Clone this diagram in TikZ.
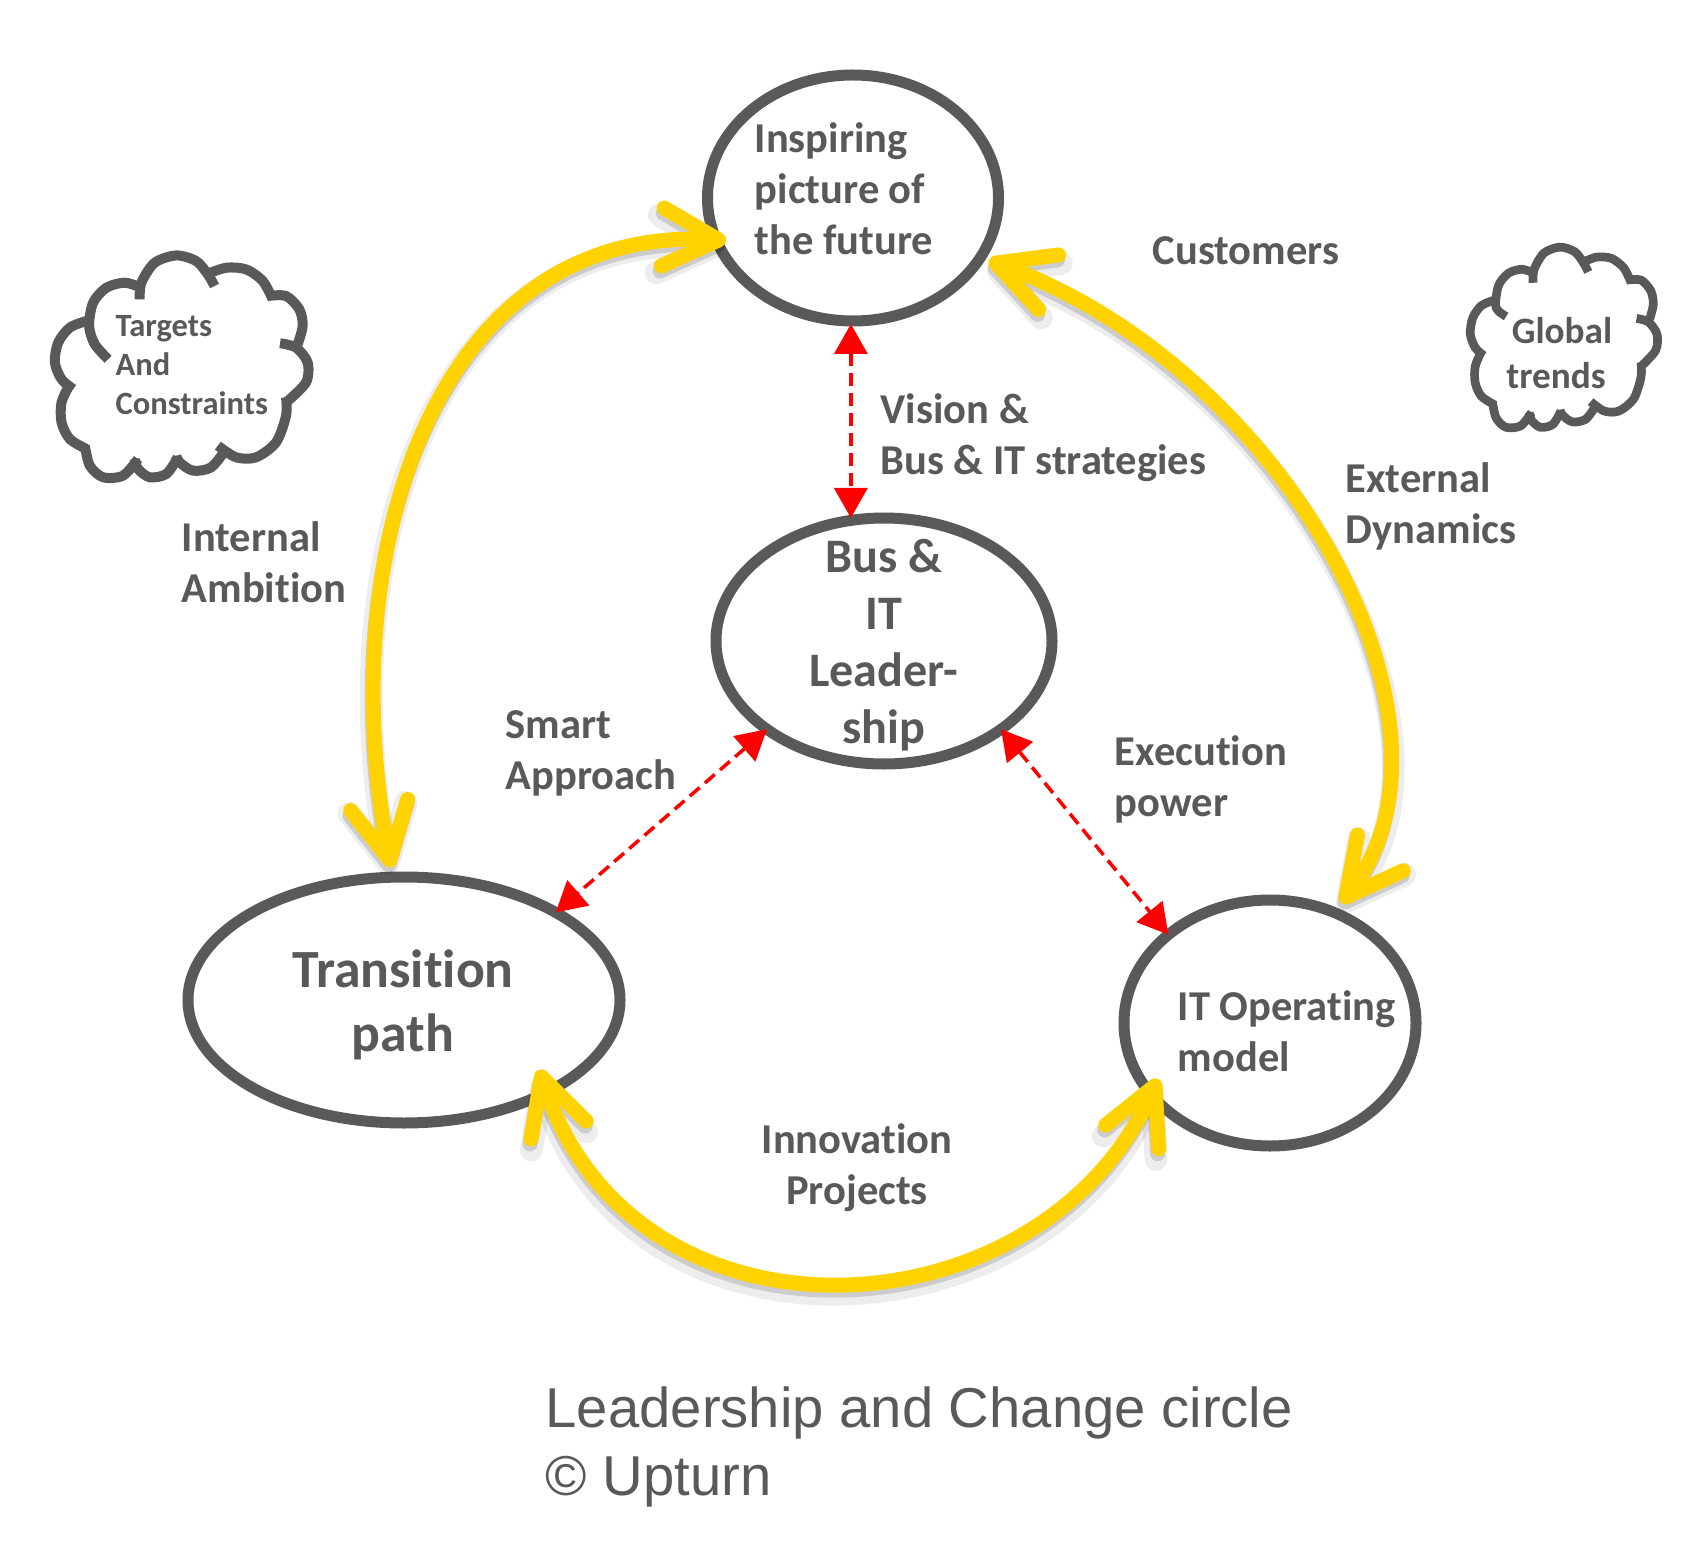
\documentclass[tikz,border=0pt]{standalone}
\usepackage{fontspec}
\setmainfont{Carlito}[Ligatures=CommonOff]
\newfontfamily\titlefont{Liberation Sans}
\usetikzlibrary{arrows.meta,shapes.geometric}
\definecolor{upgray}{HTML}{595959}
\definecolor{upyellow}{HTML}{FFD200}
\tikzset{ring/.style={draw=upgray, ellipse, line width=0.11cm, outer sep=0pt, inner sep=0pt}}
\tikzset{lab/.style={text=upgray, inner sep=0pt, align=left, anchor=west, font=\bfseries\fontsize{12.1}{14.5}\selectfont}}
\tikzset{ylw/.tip={Straight Barb[length=0.56cm, width=0.58cm, round]}}
\tikzset{gedge/.style={ylw-ylw, line width=0.15cm, color=upyellow,
        preaction={draw=black, opacity=0.07, line width=0.23cm, transform canvas={shift={(-0.01,-0.07)}}},
        preaction={draw=black, opacity=0.14, line width=0.15cm, transform canvas={shift={(-0.01,-0.05)}}}}}
\tikzset{redge/.style={{Triangle[length=0.3cm, width=0.33cm]}-{Triangle[length=0.3cm, width=0.33cm]},
        line width=0.035cm, color=red, dash pattern=on 0.13cm off 0.07cm}}
% one cloud, bumps as in the 900 wide sketch, #1 is the free end of the first bump
\newcommand{\cloudbumps}[1]{%
    \foreach \bump in {
        {#1 (178,320) (190,250) (230,205) (285,190) (335,205)},
        {(330,240) (335,190) (375,130) (440,108) (500,125) (535,165) (555,200)},
        {(530,165) (590,145) (650,150) (700,185) (730,240)},
        {(715,230) (770,230) (810,270) (820,320) (805,375)},
        {(752,372) (800,385) (835,430) (830,490) (770,550)},
        {(770,535) (770,590) (740,670) (680,715) (620,715) (565,680)},
        {(590,690) (545,745) (490,755) (450,730) (440,710)},
        {(445,715) (410,765) (360,775) (325,750) (315,720)},
        {(325,720) (280,770) (220,775) (180,740) (165,680)},
        {(170,690) (120,660) (95,610) (95,550) (120,495)},
        {(130,510) (95,480) (75,430) (85,370) (120,325) (170,305)}}
    {\draw plot [smooth] coordinates \bump;}}
\begin{document}
\begin{tikzpicture}
    \useasboundingbox (0, 0) rectangle (17.06, -15.65);

    \node[ring, minimum width=2.91cm, minimum height=2.46cm] (Nfuture) at (8.53, -1.98) {};
    \node[ring, minimum width=3.36cm, minimum height=2.46cm] (Nlead) at (8.84, -6.41) {};
    \node[ring, minimum width=4.32cm, minimum height=2.46cm] (Ntrans) at (4.04, -10.00) {};
    \node[ring, minimum width=2.92cm, minimum height=2.46cm] (Nmodel) at (12.70, -10.23) {};

    \node[lab] (Tfuture) at (7.54, -1.89) {Inspiring\\picture of\\the future};
    \node[lab, anchor=center, align=center, font=\bfseries\fontsize{13.7}{16.2}\selectfont] (Tlead) at (8.84, -6.45) {Bus \&\\IT\\Leader-\\ship};
    \node[lab, anchor=center, align=center, font=\bfseries\fontsize{15.3}{18.2}\selectfont] (Ttrans) at (4.03, -10.05) {Transition\\path};
    \node[lab] (Tmodel) at (11.77, -10.31) {IT Operating\\model};

    \draw [redge, shorten <=0.03cm] (Nfuture.269) -- (Nfuture.269 |- Nlead.north);
    \draw [redge] (Nlead.217) -- (Ntrans.30);
    \draw [redge] (Nlead.-37) -- (Nmodel.139);

    \draw [gedge, shorten <=0.10cm, shorten >=-0.10cm] (Ntrans.95) to [out=101, in=177, out looseness=1.15, in looseness=1.03] (Nfuture.197);
    \draw [gedge, shorten <=0.09cm, shorten >=0.12cm] (Nfuture.-25) to [out=-20, in=52, out looseness=1.12, in looseness=0.82] (Nmodel.60);
    \draw [gedge, shorten <=-0.24cm, shorten >=-0.17cm] (Ntrans.-33) to [out=-72, in=246, out looseness=1.20, in looseness=1.13] (Nmodel.211);

    \node[lab] (Lcust) at (11.52, -2.51) {Customers};
    \node[lab] (Lvision) at (8.80, -4.38) {Vision \&\\Bus \& IT strategies};
    \node[lab] (Lext) at (13.45, -5.06) {External\\Dynamics};
    \node[lab] (Lint) at (1.81, -5.62) {Internal\\Ambition};
    \node[lab] (Lsmart) at (5.05, -7.53) {Smart\\Approach};
    \node[lab] (Lexec) at (11.14, -7.79) {Execution\\power};
    \node[lab, anchor=center, align=center] (Lproj) at (8.57, -11.68) {Innovation\\Projects};

    \begin{scope}[x=0.00333cm, y=-0.00333cm, shift={(90,660)}, line width=0.10cm, color=upgray]
        \cloudbumps{(235,420) (195,375)}
    \end{scope}
    \begin{scope}[x=0.00246cm, y=-0.0027cm, shift={(5911,807)}, line width=0.087cm, color=upgray]
        \cloudbumps{(221,365) (190,345)}
    \end{scope}
    \node[lab, font=\bfseries\fontsize{9.25}{11}\selectfont] (Ttarget) at (1.15, -3.65) {Targets\\And\\Constraints};
    \node[lab, anchor=center, align=center, font=\bfseries\fontsize{10.6}{12.8}\selectfont] (Tglobal) at (15.62, -3.53) {Global\\trends\hspace*{0.12cm}\mbox{}};

    \node[lab, text=upgray, font=\titlefont\fontsize{16}{19.5}\selectfont] (Ltitle) at (5.45, -14.47) {Leadership and Change circle\\\textcopyright{} Upturn};
\end{tikzpicture}
\end{document}
